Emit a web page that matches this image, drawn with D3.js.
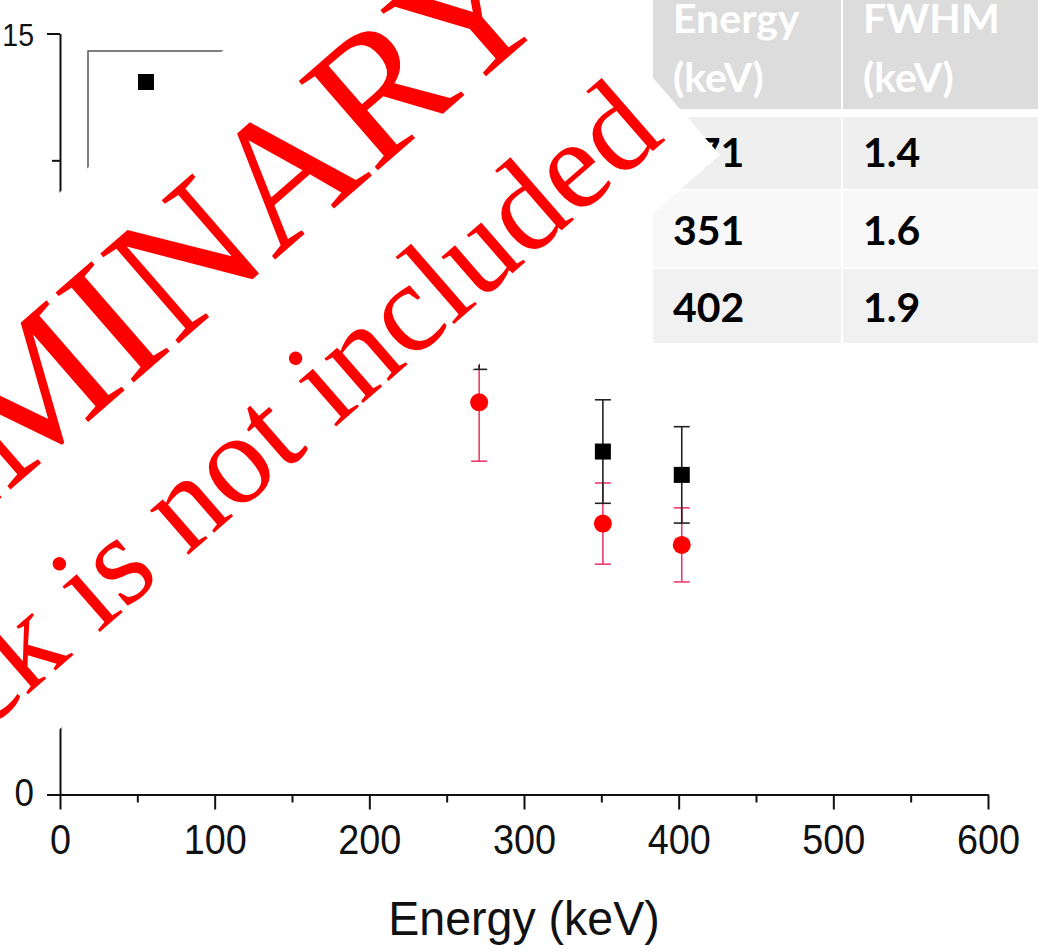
<!DOCTYPE html>
<html>
<head>
<meta charset="utf-8">
<script src="https://cdn.jsdelivr.net/npm/d3@7"></script>
<style>
  html, body { margin: 0; padding: 0; background: #fff; }
  svg { display: block; }
</style>
</head>
<body>
<svg id="chart" width="1038" height="952"></svg>
<script>
// ---- data ----
const energies     = [271, 351, 402];
const squareVals   = [9.5, 6.76, 6.30];
const squareErr    = [1.12, 1.02, 0.95];
const circleVals   = [7.73, 5.34, 4.92];
const circleErr    = [1.16, 0.80, 0.73];

const xMajorTicks  = [0, 100, 200, 300, 400, 500, 600];
const xMinorTicks  = [50, 150, 250, 350, 450, 550];
const yMajorTicks  = [0, 5, 10, 15];
const yMinorTicks  = [2.5, 7.5, 12.5];
const xTitle       = "Energy (keV)";

const tableHeader  = [["Energy", "(keV)"], ["FWHM", "(keV)"]];
const tableEnergy  = ["271", "351", "402"];
const tableFwhm    = ["1.4", "1.6", "1.9"];

const stampLines   = ["PRELIMINARY", "Feedback is not included"];

// ---- setup ----
const W = 1038, H = 952;
const svg = d3.select("#chart");
svg.append("rect").attr("width", W).attr("height", H).attr("fill", "#fff");

const x = d3.scaleLinear().domain([0, 600]).range([60, 988]);
const y = d3.scaleLinear().domain([0, 15]).range([794.5, 33.5]);

const sans = "'Liberation Sans', Arial, Helvetica, sans-serif";
const ink = "#111";

// ---- axes ----
function styleAxis(g) {
  g.attr("font-family", sans);
  g.select(".domain").attr("stroke", ink).attr("stroke-width", 2);
  g.selectAll(".tick line").attr("stroke", ink).attr("stroke-width", 2);
}

const gx = svg.append("g")
  .attr("transform", `translate(0,${y(0)})`)
  .call(d3.axisBottom(x).tickValues(xMajorTicks).tickSize(15).tickSizeOuter(0).tickFormat(d3.format("d")))
  .call(styleAxis);
gx.selectAll(".tick text")
  .attr("y", 60).attr("dy", null)
  .attr("font-size", 42).attr("fill", ink)
  .attr("transform", "scale(0.9,1)");

svg.append("g")
  .attr("transform", `translate(0,${y(0)})`)
  .call(d3.axisBottom(x).tickValues(xMinorTicks).tickSize(8).tickFormat(""))
  .call(styleAxis)
  .call(g => g.select(".domain").remove());

const gy = svg.append("g")
  .attr("transform", `translate(${x(0)},0)`)
  .call(d3.axisLeft(y).tickValues(yMajorTicks).tickSize(13).tickSizeOuter(0).tickFormat(d3.format("d")))
  .call(styleAxis);
gy.selectAll(".tick text")
  .attr("x", 0)
  .attr("dy", d => d === 15 ? 11.5 : 10.5)
  .attr("font-size", d => d === 15 ? 31 : 38)
  .attr("fill", ink)
  .attr("text-anchor", "end")
  .attr("transform", "translate(-26,0) scale(0.92,1)");

svg.append("g")
  .attr("transform", `translate(${x(0)},0)`)
  .call(d3.axisLeft(y).tickValues(yMinorTicks).tickSize(8).tickFormat(""))
  .call(styleAxis)
  .call(g => g.select(".domain").remove());

svg.append("text")
  .attr("transform", `translate(${(x(0) + x(600)) / 2},935) scale(0.95,1)`)
  .attr("text-anchor", "middle")
  .attr("font-family", sans)
  .attr("font-size", 49)
  .attr("fill", ink)
  .text(xTitle);

// ---- legend frame ----
const legend = svg.append("g");
legend.append("rect")
  .attr("x", 88).attr("y", 51).attr("width", 220).attr("height", 160)
  .attr("fill", "none").attr("stroke", "#555").attr("stroke-width", 1.5);
legend.append("rect")
  .attr("x", 146 - 8).attr("y", 82 - 8).attr("width", 16).attr("height", 16)
  .attr("fill", "#000");

// ---- data marks ----
const squares = energies.map((e, i) => ({ e, v: squareVals[i], err: squareErr[i] }));
const circles = energies.map((e, i) => ({ e, v: circleVals[i], err: circleErr[i] }));
const capHalf = 8;

function errorBars(data, color, width) {
  const g = svg.append("g").attr("stroke", color).attr("stroke-width", width).attr("fill", "none");
  g.selectAll("line.stem").data(data).join("line").attr("class", "stem")
    .attr("x1", d => x(d.e)).attr("x2", d => x(d.e))
    .attr("y1", d => y(d.v - d.err)).attr("y2", d => y(d.v + d.err));
  g.selectAll("line.lo").data(data).join("line").attr("class", "lo")
    .attr("x1", d => x(d.e) - capHalf).attr("x2", d => x(d.e) + capHalf)
    .attr("y1", d => y(d.v - d.err)).attr("y2", d => y(d.v - d.err));
  g.selectAll("line.hi").data(data).join("line").attr("class", "hi")
    .attr("x1", d => x(d.e) - capHalf).attr("x2", d => x(d.e) + capHalf)
    .attr("y1", d => y(d.v + d.err)).attr("y2", d => y(d.v + d.err));
}

errorBars(circles, "#ee3a6a", 1.6);
errorBars(squares, "#222", 1.6);

svg.append("g").selectAll("circle").data(circles).join("circle")
  .attr("cx", d => x(d.e)).attr("cy", d => y(d.v)).attr("r", 9)
  .attr("fill", "#ff0000");

svg.append("g").selectAll("rect").data(squares).join("rect")
  .attr("x", d => x(d.e) - 8).attr("y", d => y(d.v) - 8)
  .attr("width", 16).attr("height", 16)
  .attr("fill", "#000");

// ---- table ----
const table = svg.append("g").attr("font-family", "Lato, 'Open Sans', sans-serif").attr("font-weight", 700);
const colX = [653, 843];
const colW = [188, 195];
const headBottom = 109;
const rowTop = [117, 191, 269];
const rowH = [72, 76, 74];
const rowFill = ["#efefef", "#f8f8f8", "#f1f1f1"];
const rowBase = [167, 245, 322];
const textPad = 20;

colX.forEach((cx, c) => {
  table.append("rect").attr("x", cx).attr("y", 0).attr("width", colW[c]).attr("height", headBottom).attr("fill", "#dcdcdc");
  tableHeader[c].forEach((t, k) => {
    table.append("text").attr("x", cx + textPad).attr("y", [33, 92][k])
      .attr("font-size", 41).attr("fill", "#fff").text(t);
  });
});

const rows = tableEnergy.map((e, i) => [e, tableFwhm[i]]);
rows.forEach((r, i) => {
  r.forEach((val, c) => {
    table.append("rect").attr("x", colX[c]).attr("y", rowTop[i]).attr("width", colW[c]).attr("height", rowH[i]).attr("fill", rowFill[i]);
    table.append("text").attr("x", colX[c] + textPad).attr("y", rowBase[i])
      .attr("font-size", 41).attr("fill", "#000").text(val);
  });
});

// ---- stamp ----
const stamp = svg.append("g").attr("transform", "translate(720,155) rotate(-41)");
stamp.append("rect").attr("x", -1600).attr("y", -405).attr("width", 1600).attr("height", 405).attr("fill", "#fff");
stamp.append("text")
  .attr("x", -32).attr("y", -213)
  .attr("text-anchor", "end")
  .attr("font-family", "'Liberation Serif', 'Times New Roman', serif")
  .attr("font-size", 182).attr("fill", "#ff0000")
  .text(stampLines[0]);
stamp.append("text")
  .attr("x", -30).attr("y", -47)
  .attr("text-anchor", "end")
  .attr("font-family", "'Liberation Serif', 'Times New Roman', serif")
  .attr("font-size", 128).attr("fill", "#ff0000")
  .text(stampLines[1]);
</script>
</body>
</html>
